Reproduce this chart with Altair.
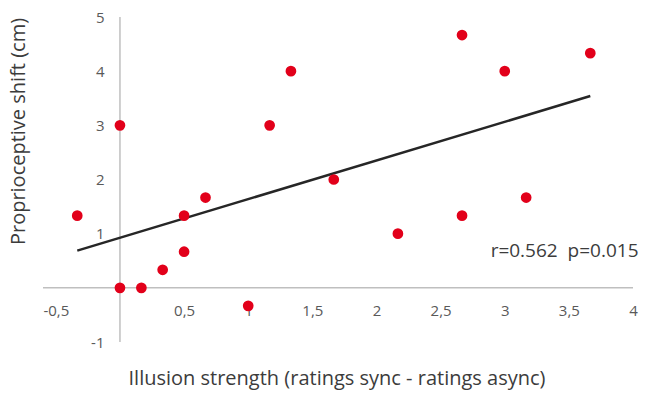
import altair as alt
import pandas as pd

# data
x_vals = [-0.333, 0, 0, 0.167, 0.333, 0.5, 0.5, 0.667, 1.0, 1.167, 1.333, 1.667,
          2.167, 2.667, 2.667, 3.0, 3.167, 3.667]
y_vals = [1.333, 3, 0, 0, 0.333, 0.667, 1.333, 1.667, -0.333, 3, 4, 2,
          1, 1.333, 4.667, 4, 1.667, 4.333]
x_ticks = [-0.5, 0.5, 1, 1.5, 2, 2.5, 3, 3.5, 4]
y_ticks = [-1, 1, 2, 3, 4, 5]
x_domain = [-0.6, 4]
y_domain = [-1, 5]
annotation = ["r=0.562\u00a0\u00a0p=0.015"]
ann_x = [2.89]
ann_y = [0.685]

FONT = "Open Sans"

points = pd.DataFrame({"x": x_vals, "y": y_vals})
vline = pd.DataFrame({"x": [0], "y": [y_domain[0]], "y2": [y_domain[1]]})
hline = pd.DataFrame({"y": [0], "x": [x_domain[0]], "x2": [x_domain[1]]})
ann = pd.DataFrame({"x": ann_x, "y": ann_y, "t": annotation})

xscale = alt.Scale(domain=x_domain, nice=False, zero=False)
yscale = alt.Scale(domain=y_domain, nice=False, zero=False)

xaxis = alt.Axis(
    values=x_ticks, grid=False, domain=False, ticks=False, tickSize=0,
    labelExpr="replace(datum.value + '', '.', ',')",
    labelFont=FONT, labelFontSize=15, labelColor="#595959",
    labelBaseline="middle", labelPadding=-32, labelFlush=False,
    title="Illusion strength (ratings sync - ratings async)",
    titleFont=FONT, titleFontSize=20, titleFontWeight="normal", titleColor="#3c3c3c",
    titleX=293.5, titleY=36, titleBaseline="middle", titleAlign="center",
)
yaxis = alt.Axis(
    values=y_ticks, grid=False, domain=False, ticks=False, tickSize=0,
    labelExpr="replace(datum.value + '', '.', ',')",
    labelFont=FONT, labelFontSize=15, labelColor="#595959",
    labelPadding=-61, labelFlush=False,
    title="Proprioceptive shift (cm)",
    titleFont=FONT, titleFontSize=20, titleFontWeight="normal", titleColor="#3c3c3c",
    titleX=-25, titleY=114, titleBaseline="middle", titleAlign="center", titleAngle=-90,
)

base_axes = alt.Chart(points).mark_point(opacity=0).encode(
    x=alt.X("x:Q", scale=xscale, axis=xaxis),
    y=alt.Y("y:Q", scale=yscale, axis=yaxis),
)

vrule = alt.Chart(vline).mark_rule(color="#bfbfbf", strokeWidth=1.5).encode(
    x=alt.X("x:Q"), y="y:Q", y2="y2:Q"
)
hrule = alt.Chart(hline).mark_rule(color="#bfbfbf", strokeWidth=1.5).encode(
    y=alt.Y("y:Q"), x="x:Q", x2="x2:Q"
)

trend = alt.Chart(points).transform_regression("x", "y").mark_line(
    color="#262626", strokeWidth=2.5
).encode(x="x:Q", y="y:Q")

dots = alt.Chart(points).mark_circle(size=115, color="#e2001a", opacity=1).encode(
    x="x:Q", y="y:Q"
)

text = alt.Chart(ann).mark_text(
    align="left", baseline="middle", font=FONT, fontSize=19, color="#3c3c3c"
).encode(x="x:Q", y="y:Q", text="t:N")

chart = alt.layer(base_axes, vrule, hrule, trend, dots, text).properties(
    width=590, height=325,
    background="white",
    autosize=alt.AutoSizeParams(type="none"),
    padding={"left": 43, "top": 17, "right": 13, "bottom": 51},
).configure_view(stroke=None)

chart.save("out.html", embed_options={"renderer": "svg", "actions": False})
